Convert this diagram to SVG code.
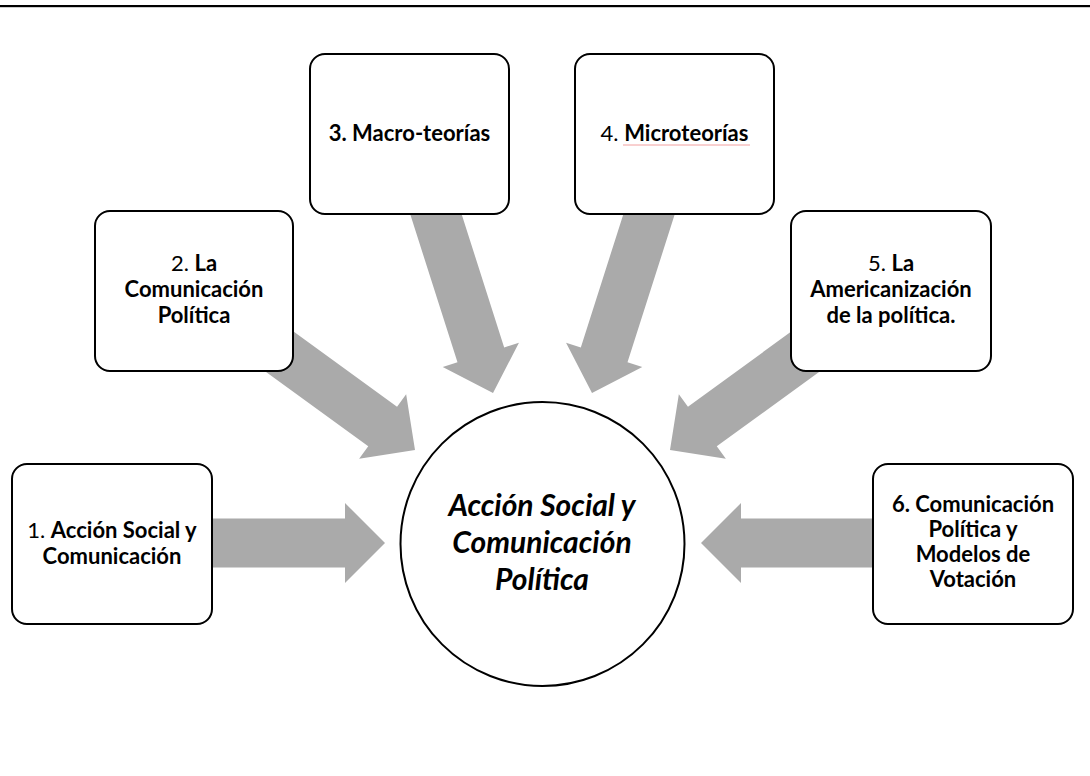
<svg xmlns="http://www.w3.org/2000/svg" width="1090" height="776" viewBox="0 0 1090 776">
<style>
.box{fill:#fff;stroke:#000;stroke-width:2}
.arr{fill:#aaaaaa}
.t{font-family:Lato,"Liberation Sans",sans-serif;font-size:22px;fill:#000;text-anchor:middle}
.b{font-weight:bold}
.c{font-family:Lato,"Liberation Sans",sans-serif;font-size:30px;font-weight:bold;font-style:italic;text-anchor:middle;fill:#000}
</style>
<defs>
<path id="ar" d="M0,0 L-40,-40 L-40,-24.5 L-240,-24.5 L-240,24.5 L-40,24.5 L-40,40 Z"/>
</defs>
<rect x="0" y="5" width="1090" height="2.2" fill="#000"/>
<g id="connectors">
<use href="#ar" class="arr" transform="translate(385,543)"/>
<use href="#ar" class="arr" transform="translate(701,543) rotate(180)"/>
<use href="#ar" class="arr" transform="translate(415,450) rotate(36)"/>
<use href="#ar" class="arr" transform="translate(670,450) rotate(144)"/>
<use href="#ar" class="arr" transform="translate(493,393) rotate(72.3)"/>
<use href="#ar" class="arr" transform="translate(592,393) rotate(107.7)"/>
</g>
<g id="n1">
<rect class="box" x="12" y="464" width="200" height="160" rx="15"/>
<text class="t" x="112" y="538">1. <tspan class="b">Acción Social y</tspan></text>
<text class="t b" x="112" y="564">Comunicación</text>
</g>
<g id="n2">
<rect class="box" x="95" y="211" width="198" height="160" rx="15"/>
<text class="t" x="194" y="271">2. <tspan class="b">La</tspan></text>
<text class="t b" x="194" y="297">Comunicación</text>
<text class="t b" x="194" y="323">Política</text>
</g>
<g id="n3">
<rect class="box" x="310" y="54" width="199" height="160" rx="15"/>
<text class="t b" x="409.5" y="141">3. Macro-teorías</text>
</g>
<g id="n4">
<rect class="box" x="575" y="54" width="199" height="160" rx="15"/>
<text class="t" x="674.5" y="141">4. <tspan class="b">Microteorías</tspan></text>
<path d="M623,145 L750,145" stroke="#f2a0a0" stroke-width="1" fill="none"/>
</g>
<g id="n5">
<rect class="box" x="791" y="211" width="200" height="160" rx="15"/>
<text class="t" x="891" y="271">5. <tspan class="b">La</tspan></text>
<text class="t b" x="891" y="297">Americanización</text>
<text class="t b" x="891" y="323">de la política.</text>
</g>
<g id="n6">
<rect class="box" x="873" y="464" width="200" height="160" rx="15"/>
<text class="t b" x="973" y="512">6. Comunicación</text>
<text class="t b" x="973" y="537">Política y</text>
<text class="t b" x="973" y="562">Modelos de</text>
<text class="t b" x="973" y="587">Votación</text>
</g>
<g id="center">
<circle cx="542.5" cy="544" r="142" fill="#fff" stroke="#000" stroke-width="2"/>
<text class="c" x="542" y="516">Acción Social y</text>
<text class="c" x="542" y="553">Comunicación</text>
<text class="c" x="542" y="590">Política</text>
</g>
</svg>
